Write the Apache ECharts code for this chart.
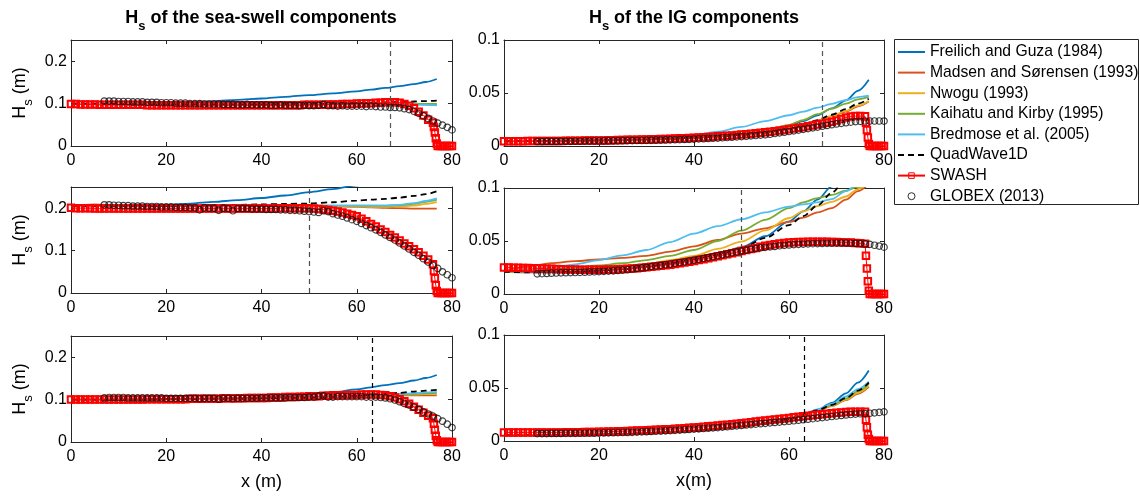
<!DOCTYPE html>
<html>
<head>
<meta charset="utf-8">
<script src="https://cdn.jsdelivr.net/npm/echarts@6/dist/echarts.min.js"></script>
<style>
  html, body { margin: 0; padding: 0; background: #ffffff; }
  #chart { width: 1140px; height: 499px; }
</style>
</head>
<body>
<div id="chart"></div>
<script>
// ---------------------------------------------------------------------------
// Significant wave height along the flume: sea-swell (left) and infragravity
// (right) components for three cases (rows). Five Boussinesq-type models,
// QuadWave1D, SWASH and the GLOBEX (2013) measurements.
// ---------------------------------------------------------------------------

// ---- tick labels / axis values ----
const xTicks = [0, 20, 40, 60, 80];
const ssTicks = [0, 0.1, 0.2];
const igTicks = [0, 0.05, 0.1];
const breakX = [67, 50, 63.3];           // dashed break-point marker per case

// ---- legend / series names ----
const modelNames = ['Freilich and Guza (1984)', 'Madsen and Sørensen (1993)', 'Nwogu (1993)',
                    'Kaihatu and Kirby (1995)', 'Bredmose et al. (2005)'];
const quadName = 'QuadWave1D';
const swashName = 'SWASH';
const globexName = 'GLOBEX (2013)';

// ---- sample positions (m) ----
const modelX = [0, 5, 10, 15, 20, 25, 30, 35, 40, 45, 50, 55, 60, 63, 66, 69, 72, 74.5, 76.8];
const swashX = [0,1,2,3,4,5,6,7,8,9,10,11,12,13,14,15,16,17,18,19,20,21,22,23,24,25,26,27,28,29,
  30,31,32,33,34,35,36,37,38,39,40,41,42,43,44,45,46,47,48,49,50,51,52,53,54,55,56,57,58,59,
  60,61,62,63,64,65,66,67,68,69,70,71,72,73,74,75,76,76.2,76.4,76.6,76.8,77,77.5,78,78.5,79,79.5,80];
const globexX = [7,8,9,10,11,12,13,14,15,16,17,18,19,20,21,22,23,24,25,26,27,28,29,30,31,32,33,34,35,36,
  37,38,39,40,41,42,43,44,45,46,47,48,49,50,51,52,53,54,55,56,57,58,59,60,61,62,63,64,65,66,
  67,68,69,70,71,72,73,74,75,76,77,78,79,80];

// ================= Case 1, sea-swell Hs (m) =================
const ss1Freilich = [.100,.100,.100,.101,.102,.104,.106,.109,.112,.116,.120,.124,.129,.133,.137,.141,.146,.151,.158];
const ss1Madsen   = [.100,.099,.099,.098,.098,.098,.098,.098,.098,.098,.098,.099,.099,.099,.100,.100,.099,.098,.097];
const ss1Nwogu    = [.100,.099,.099,.098,.098,.098,.098,.098,.098,.098,.098,.099,.099,.100,.100,.100,.100,.099,.098];
const ss1Kaihatu  = [.100,.099,.099,.098,.098,.098,.098,.098,.098,.098,.099,.099,.100,.100,.100,.101,.100,.099,.099];
const ss1Bredmose = [.100,.099,.099,.098,.098,.098,.098,.098,.098,.098,.098,.099,.099,.100,.100,.099,.098,.097,.096];
const ss1Quad     = [.100,.099,.099,.098,.098,.098,.098,.098,.098,.099,.099,.100,.101,.102,.103,.104,.105,.106,.107];
const ss1Swash = [
  .099,.099,.098,.098,.098,.098,.097,.097,.097,.097,
  .097,.097,.097,.097,.097,.097,.096,.096,.096,.096,
  .096,.096,.096,.096,.096,.096,.096,.096,.096,.096,
  .096,.096,.096,.096,.096,.096,.096,.096,.096,.096,
  .096,.096,.096,.096,.096,.096,.096,.096,.096,.097,
  .097,.097,.097,.097,.098,.098,.098,.099,.099,.099,
  .100,.100,.101,.101,.102,.102,.103,.103,.103,.102,
  .099,.095,.089,.081,.072,.062,.055,
  .045,.032,.018,.006,
  0,0,0,0,0,0,0];
const ss1Globex = [
  .106,.106,.106,.105,.105,.105,.104,.104,.104,.103,
  .103,.103,.102,.102,.102,.101,.101,.101,.100,.100,
  .100,.099,.099,.099,.099,.098,.098,.098,.097,.097,
  .098,.097,.097,.097,.097,.096,.096,.097,.096,.096,
  .096,.095,.096,.095,.095,.096,.098,.095,.095,.094,
  .095,.094,.094,.094,.094,.093,.094,.093,.092,.092,
  .091,.091,.090,.088,.086,.082,.077,.071,.065,.059,
  .054,.049,.044,.038];

// ================= Case 1, infragravity Hs (m) =================
const ig1Freilich = [.0045,.0046,.0048,.0051,.0054,.0058,.0063,.0070,.0080,.0092,.0108,.0132,.0190,.0235,.0290,.0355,.0430,.0520,.0625];
const ig1Madsen   = [.0045,.0046,.0048,.0051,.0054,.0058,.0063,.0070,.0079,.0090,.0105,.0126,.0160,.0195,.0235,.0280,.0325,.0375,.0420];
const ig1Nwogu    = [.0045,.0046,.0048,.0051,.0054,.0058,.0063,.0070,.0079,.0090,.0105,.0127,.0162,.0198,.0240,.0285,.0332,.0380,.0425];
const ig1Kaihatu  = [.0045,.0046,.0048,.0051,.0054,.0058,.0063,.0070,.0080,.0094,.0112,.0140,.0200,.0245,.0300,.0352,.0400,.0440,.0465];
const ig1Bredmose = [.0045,.0046,.0049,.0053,.0058,.0064,.0072,.0085,.0102,.0135,.0180,.0235,.0290,.0325,.0362,.0398,.0433,.0462,.0475];
const ig1Quad     = [.0045,.0046,.0048,.0051,.0054,.0058,.0063,.0070,.0079,.0090,.0105,.0127,.0163,.0200,.0245,.0295,.0348,.0400,.0445];
const ig1Swash = [
  .0045,.0045,.0045,.0045,.0045,.0046,.0046,.0046,.0047,.0047,
  .0047,.0048,.0048,.0049,.0049,.0050,.0050,.0051,.0051,.0052,
  .0053,.0053,.0054,.0055,.0056,.0057,.0058,.0059,.0060,.0061,
  .0062,.0063,.0064,.0066,.0067,.0069,.0070,.0072,.0074,.0076,
  .0078,.0080,.0083,.0085,.0088,.0091,.0094,.0097,.0100,.0104,
  .0108,.0112,.0116,.0120,.0125,.0130,.0135,.0140,.0146,.0152,
  .0158,.0164,.0171,.0178,.0186,.0194,.0202,.0211,.0220,.0229,
  .0240,.0255,.0268,.0278,.0282,.0282,.0280,
  .022,.015,.008,.002,
  0,0,0,0,0,0,0];
const ig1Globex = [
  .0042,.0042,.0043,.0043,.0043,.0044,.0044,.0044,.0045,.0045,
  .0046,.0046,.0047,.0047,.0048,.0048,.0049,.0049,.0050,.0050,
  .0051,.0052,.0052,.0053,.0054,.0055,.0056,.0057,.0058,.0059,
  .0060,.0062,.0063,.0065,.0067,.0069,.0071,.0073,.0075,.0078,
  .0080,.0083,.0086,.0089,.0092,.0096,.0099,.0103,.0107,.0111,
  .0118,.0124,.0130,.0137,.0143,.0150,.0157,.0164,.0171,.0179,
  .0187,.0194,.0201,.0208,.0214,.0220,.0225,.0230,.0233,.0236,
  .0236,.0236,.0236,.0235];

// ================= Case 2, sea-swell Hs (m) =================
const ss2Freilich = [.205,.205,.206,.207,.208,.211,.215,.219,.224,.230,.238,.245,.254,.259,.265,.271,.278,.284,.290];
const ss2Madsen   = [.205,.209,.206,.205,.205,.205,.205,.205,.205,.205,.205,.204,.203,.202,.201,.200,.199,.199,.199];
const ss2Nwogu    = [.205,.206,.205,.205,.205,.205,.205,.205,.205,.205,.205,.205,.204,.203,.203,.204,.206,.210,.215];
const ss2Kaihatu  = [.205,.206,.205,.205,.205,.205,.205,.205,.205,.205,.206,.206,.206,.206,.206,.207,.210,.215,.220];
const ss2Bredmose = [.205,.206,.205,.205,.205,.205,.205,.205,.205,.206,.206,.206,.206,.206,.206,.208,.212,.217,.223];
const ss2Quad     = [.206,.205,.205,.205,.205,.206,.207,.208,.209,.210,.211,.214,.218,.220,.222,.225,.229,.233,.240];
const ss2Swash = [
  .201,.200,.200,.200,.200,.199,.199,.199,.199,.199,
  .199,.199,.199,.199,.199,.199,.199,.199,.199,.199,
  .199,.199,.199,.199,.199,.199,.199,.199,.199,.199,
  .199,.199,.199,.199,.199,.199,.199,.199,.199,.199,
  .199,.199,.199,.199,.200,.200,.200,.200,.200,.200,
  .200,.199,.198,.197,.196,.194,.192,.190,.187,.184,
  .181,.175,.169,.163,.157,.150,.144,.137,.131,.124,
  .117,.110,.103,.096,.088,.079,.068,
  .052,.035,.018,.005,
  0,0,0,0,0,0,0];
const ss2Globex = [
  .208,.208,.207,.207,.206,.206,.205,.205,.205,.204,
  .204,.204,.203,.203,.203,.202,.202,.202,.201,.201,
  .196,.201,.200,.200,.195,.200,.199,.194,.199,.199,
  .199,.198,.198,.198,.197,.197,.197,.196,.196,.195,
  .195,.194,.193,.192,.191,.190,.194,.192,.187,.184,
  .181,.177,.173,.169,.164,.159,.154,.149,.143,.137,
  .131,.125,.118,.111,.104,.096,.089,.081,.073,.065,
  .058,.050,.043,.036];

// ================= Case 2, infragravity Hs (m) =================
const ig2Freilich = [.021,.0205,.0205,.021,.022,.0235,.026,.029,.033,.038,.044,.0545,.0685,.078,.089,.1015,.114,.127,.140];
const ig2Madsen   = [.021,.026,.029,.031,.0327,.034,.036,.040,.045,.051,.057,.062,.068,.072,.077,.081,.089,.097,.104];
const ig2Nwogu    = [.021,.021,.022,.023,.024,.026,.028,.032,.036,.0425,.0494,.060,.0717,.078,.083,.087,.092,.099,.105];
const ig2Kaihatu  = [.021,.022,.023,.025,.027,.029,.032,.036,.0415,.050,.0597,.070,.081,.0865,.0905,.0935,.0975,.101,.105];
const ig2Bredmose = [.021,.023,.025,.028,.032,.0365,.0415,.049,.057,.064,.0705,.077,.0824,.0845,.0865,.0895,.097,.104,.110];
const ig2Quad     = [.021,.0205,.0205,.021,.022,.0235,.026,.029,.033,.037,.043,.053,.065,.0735,.0835,.0955,.108,.120,.130];
const ig2Swash = [
  .0250,.0249,.0248,.0247,.0246,.0245,.0244,.0242,.0241,.0239,
  .0238,.0236,.0234,.0232,.0231,.0230,.0229,.0228,.0228,.0228,
  .0228,.0229,.0230,.0232,.0234,.0236,.0238,.0241,.0244,.0248,
  .0252,.0256,.0261,.0266,.0271,.0277,.0283,.0290,.0297,.0304,
  .0312,.0320,.0329,.0338,.0347,.0356,.0365,.0375,.0385,.0395,
  .0405,.0415,.0425,.0435,.0445,.0455,.0463,.0470,.0476,.0481,
  .0485,.0488,.0490,.0491,.0492,.0492,.0492,.0492,.0492,.0491,
  .0490,.0489,.0487,.0485,.0482,.0478,.0473,
  .036,.024,.012,.003,
  0,0,0,0,0,0,0];
const ig2Globex = [
  .0190,.0192,.0194,.0196,.0198,.0200,.0201,.0202,.0203,.0204,
  .0206,.0208,.0210,.0212,.0214,.0216,.0219,.0222,.0225,.0229,
  .0236,.0241,.0246,.0252,.0258,.0264,.0270,.0276,.0283,.0290,
  .0297,.0304,.0312,.0320,.0328,.0336,.0344,.0352,.0361,.0370,
  .0379,.0388,.0397,.0406,.0414,.0422,.0429,.0435,.0440,.0445,
  .0449,.0455,.0459,.0463,.0466,.0469,.0471,.0473,.0475,.0476,
  .0477,.0478,.0479,.0480,.0480,.0480,.0479,.0477,.0475,.0472,
  .0469,.0460,.0452,.0442];

// ================= Case 3, sea-swell Hs (m) =================
const ss3Freilich = [.100,.100,.100,.101,.101,.102,.103,.104,.1055,.108,.112,.117,.124,.129,.134,.139,.145,.151,.158];
const ss3Madsen   = [.100,.100,.100,.100,.101,.101,.102,.102,.103,.104,.105,.106,.107,.108,.109,.110,.110,.110,.110];
const ss3Nwogu    = [.100,.100,.100,.100,.101,.101,.102,.102,.103,.104,.105,.106,.107,.108,.110,.111,.112,.113,.114];
const ss3Kaihatu  = [.100,.100,.100,.100,.101,.101,.102,.102,.103,.104,.105,.106,.107,.109,.110,.112,.113,.115,.116];
const ss3Bredmose = [.100,.100,.100,.100,.101,.101,.102,.102,.103,.104,.105,.106,.108,.109,.111,.113,.115,.117,.118];
const ss3Quad     = [.100,.100,.100,.100,.101,.101,.102,.102,.103,.104,.104,.106,.109,.111,.114,.116,.119,.121,.123];
const ss3Swash = [
  .100,.100,.100,.100,.100,.100,.100,.100,.100,.100,
  .100,.100,.100,.100,.100,.100,.101,.101,.101,.101,
  .101,.101,.101,.101,.101,.102,.102,.102,.102,.102,
  .102,.102,.103,.103,.103,.103,.103,.104,.104,.104,
  .104,.104,.105,.105,.105,.106,.106,.106,.107,.107,
  .108,.108,.108,.109,.109,.110,.110,.110,.111,.111,
  .111,.112,.112,.112,.112,.111,.110,.108,.105,.101,
  .096,.090,.083,.076,.069,.062,.056,
  .043,.029,.015,.004,
  0,0,0,0,0,0,0];
const ss3Globex = [
  .104,.105,.105,.105,.105,.104,.104,.104,.104,.104,
  .104,.104,.104,.103,.103,.103,.103,.103,.103,.103,
  .102,.103,.103,.103,.101,.103,.103,.102,.103,.103,
  .103,.103,.103,.104,.104,.104,.104,.104,.104,.105,
  .105,.105,.105,.106,.106,.108,.109,.106,.106,.107,
  .107,.107,.107,.107,.107,.106,.106,.106,.105,.104,
  .102,.099,.095,.091,.087,.082,.077,.071,.066,.061,
  .055,.049,.042,.034];

// ================= Case 3, infragravity Hs (m) =================
const ig3Freilich = [.0055,.0055,.0056,.0058,.0061,.0066,.0073,.0083,.0095,.0112,.0135,.0165,.0210,.0250,.0295,.0360,.0450,.0550,.0665];
const ig3Madsen   = [.0055,.0055,.0056,.0058,.0061,.0066,.0073,.0083,.0095,.0112,.0135,.0165,.0205,.0245,.0285,.0330,.0385,.0445,.0510];
const ig3Nwogu    = [.0055,.0055,.0056,.0058,.0061,.0066,.0073,.0083,.0095,.0112,.0135,.0165,.0205,.0245,.0285,.0332,.0390,.0455,.0520];
const ig3Kaihatu  = [.0055,.0055,.0056,.0058,.0061,.0066,.0073,.0083,.0095,.0112,.0135,.0165,.0206,.0246,.0288,.0336,.0400,.0470,.0540];
const ig3Bredmose = [.0050,.0051,.0053,.0056,.0060,.0066,.0073,.0083,.0095,.0113,.0137,.0168,.0215,.0252,.0297,.0350,.0420,.0490,.0560];
const ig3Quad     = [.0055,.0055,.0056,.0058,.0061,.0066,.0073,.0083,.0095,.0112,.0135,.0165,.0207,.0247,.0290,.0340,.0405,.0475,.0550];
const ig3Swash = [
  .0080,.0080,.0080,.0080,.0080,.0080,.0080,.0080,.0080,.0080,
  .0080,.0081,.0081,.0082,.0082,.0083,.0083,.0084,.0085,.0086,
  .0087,.0088,.0089,.0090,.0091,.0093,.0094,.0096,.0098,.0100,
  .0102,.0104,.0106,.0108,.0110,.0112,.0115,.0118,.0121,.0124,
  .0127,.0130,.0134,.0138,.0142,.0146,.0150,.0154,.0158,.0163,
  .0168,.0173,.0178,.0183,.0188,.0193,.0198,.0203,.0208,.0213,
  .0218,.0223,.0228,.0233,.0238,.0243,.0248,.0253,.0258,.0262,
  .0266,.0270,.0273,.0275,.0276,.0276,.0275,
  .020,.013,.006,.002,
  0,0,0,0,0,0,0];
const ig3Globex = [
  .0070,.0070,.0070,.0071,.0071,.0071,.0072,.0072,.0072,.0073,
  .0073,.0074,.0074,.0075,.0076,.0077,.0078,.0079,.0080,.0081,
  .0082,.0084,.0086,.0088,.0090,.0092,.0094,.0096,.0098,.0100,
  .0103,.0106,.0109,.0112,.0115,.0118,.0121,.0124,.0127,.0131,
  .0135,.0139,.0143,.0147,.0151,.0155,.0159,.0163,.0167,.0171,
  .0175,.0179,.0183,.0187,.0191,.0196,.0201,.0206,.0211,.0216,
  .0221,.0226,.0231,.0236,.0241,.0246,.0250,.0254,.0257,.0259,
  .0262,.0266,.0270,.0275];

// ---------------------------------------------------------------------------
const FONT = '"Liberation Sans", Arial, Helvetica, sans-serif';
const AX = '#262626';
const modelColors = ['#0072BD', '#D95319', '#EDB120', '#77AC30', '#4DBEEE'];
const breakColors = ['#555555', '#4d4d4d', '#000000'];

// panel order: row-major (sea-swell, IG) x (case 1..3)
const panels = [
  { models: [ss1Freilich, ss1Madsen, ss1Nwogu, ss1Kaihatu, ss1Bredmose], quad: ss1Quad, swash: ss1Swash, globex: ss1Globex, max: 0.25, ticks: ssTicks },
  { models: [ig1Freilich, ig1Madsen, ig1Nwogu, ig1Kaihatu, ig1Bredmose], quad: ig1Quad, swash: ig1Swash, globex: ig1Globex, max: 0.1,  ticks: igTicks },
  { models: [ss2Freilich, ss2Madsen, ss2Nwogu, ss2Kaihatu, ss2Bredmose], quad: ss2Quad, swash: ss2Swash, globex: ss2Globex, max: 0.25, ticks: ssTicks },
  { models: [ig2Freilich, ig2Madsen, ig2Nwogu, ig2Kaihatu, ig2Bredmose], quad: ig2Quad, swash: ig2Swash, globex: ig2Globex, max: 0.1,  ticks: igTicks },
  { models: [ss3Freilich, ss3Madsen, ss3Nwogu, ss3Kaihatu, ss3Bredmose], quad: ss3Quad, swash: ss3Swash, globex: ss3Globex, max: 0.25, ticks: ssTicks },
  { models: [ig3Freilich, ig3Madsen, ig3Nwogu, ig3Kaihatu, ig3Bredmose], quad: ig3Quad, swash: ig3Swash, globex: ig3Globex, max: 0.1,  ticks: igTicks }
];

const gridBoxes = [
  { left: 71,  top: 40,  width: 381, height: 106 },
  { left: 504, top: 40,  width: 380, height: 106 },
  { left: 71,  top: 187, width: 381, height: 106 },
  { left: 504, top: 188, width: 380, height: 106 },
  { left: 71,  top: 336, width: 381, height: 106 },
  { left: 504, top: 335, width: 380, height: 106 }
];

function zip(xs, ys) {
  const out = [];
  for (let i = 0; i < xs.length; i++) out.push([xs[i], ys[i]]);
  return out;
}

const grid = [], xAxis = [], yAxis = [], series = [];

panels.forEach((p, i) => {
  const row = Math.floor(i / 2);
  const isIG = i % 2 === 1;
  grid.push(Object.assign({ containLabel: false }, gridBoxes[i]));

  const lineCfg = { show: true, onZero: false, lineStyle: { color: AX, width: 1 } };
  const tickCfg = { show: true, inside: true, length: 4, lineStyle: { color: AX, width: 1 } };

  // bottom x axis with labels
  xAxis.push({
    type: 'value', gridIndex: i, min: 0, max: 80, interval: 20, position: 'bottom',
    axisLine: lineCfg, axisTick: Object.assign({ customValues: xTicks }, tickCfg),
    axisLabel: { customValues: xTicks, color: '#000', fontSize: 16, fontFamily: FONT, margin: 7 },
    splitLine: { show: false },
    name: row === 2 ? (isIG ? 'x(m)' : 'x (m)') : '',
    nameLocation: 'middle', nameGap: 31,
    nameTextStyle: { color: '#000', fontSize: 18, fontFamily: FONT }
  });
  // top x axis (box edge with inward ticks)
  xAxis.push({
    type: 'value', gridIndex: i, min: 0, max: 80, interval: 20, position: 'top',
    axisLine: lineCfg, axisTick: Object.assign({ customValues: xTicks }, tickCfg),
    axisLabel: { show: false }, splitLine: { show: false }
  });
  // left y axis with labels
  yAxis.push({
    type: 'value', gridIndex: i, min: 0, max: p.max, position: 'left',
    axisLine: lineCfg, axisTick: Object.assign({ customValues: p.ticks }, tickCfg),
    axisLabel: { customValues: p.ticks, color: '#000', fontSize: 16, fontFamily: FONT, margin: 4 },
    splitLine: { show: false }
  });
  // right y axis (box edge with inward ticks)
  yAxis.push({
    type: 'value', gridIndex: i, min: 0, max: p.max, position: 'right',
    axisLine: lineCfg, axisTick: Object.assign({ customValues: p.ticks }, tickCfg),
    axisLabel: { show: false }, splitLine: { show: false }
  });

  const xi = 2 * i, yi = 2 * i;

  p.models.forEach((vals, k) => {
    series.push({
      type: 'line', name: modelNames[k], xAxisIndex: xi, yAxisIndex: yi,
      data: zip(modelX, vals), symbol: 'none', showSymbol: false,
      smooth: 0.3, smoothMonotone: 'x', clip: true, silent: true, z: 2,
      lineStyle: { color: modelColors[k], width: 1.8 }, itemStyle: { color: modelColors[k] }
    });
  });

  series.push({
    type: 'line', name: quadName, xAxisIndex: xi, yAxisIndex: yi,
    data: zip(modelX, p.quad), symbol: 'none', showSymbol: false,
    smooth: 0.3, smoothMonotone: 'x', clip: true, silent: true, z: 3,
    lineStyle: { color: '#000', width: 1.8, type: [6, 4] }, itemStyle: { color: '#000' }
  });

  series.push({
    type: 'line', name: swashName, xAxisIndex: xi, yAxisIndex: yi,
    data: zip(swashX, p.swash), symbol: 'rect', symbolSize: 6.5, showSymbol: true, showAllSymbol: true,
    clip: true, silent: true, z: 4,
    lineStyle: { color: '#ff0000', width: 1 },
    itemStyle: { color: 'rgba(255,255,255,0)', borderColor: '#ff0000', borderWidth: 2 }
  });

  series.push({
    type: 'scatter', name: globexName, xAxisIndex: xi, yAxisIndex: yi,
    data: zip(globexX, p.globex), symbol: 'circle', symbolSize: 6.5, silent: true, z: 5,
    itemStyle: { color: 'rgba(255,255,255,0)', borderColor: '#111', borderWidth: 1.2 },
    markLine: {
      silent: true, symbol: ['none', 'none'], label: { show: false },
      lineStyle: { color: breakColors[row], width: 1.2, type: [5, 4] },
      data: [{ xAxis: breakX[row] }]
    }
  });
});

const hideDot = { opacity: 0 };
const legendData = [
  { name: modelNames[0], itemStyle: hideDot },
  { name: modelNames[1], itemStyle: hideDot },
  { name: modelNames[2], itemStyle: hideDot },
  { name: modelNames[3], itemStyle: hideDot },
  { name: modelNames[4], itemStyle: hideDot },
  { name: quadName, itemStyle: hideDot },
  { name: swashName, itemStyle: { color: 'rgba(255,255,255,0)', borderColor: '#ff0000', borderWidth: 1 } },
  { name: globexName, itemStyle: { color: 'rgba(255,255,255,0)', borderColor: '#000', borderWidth: 1 } }
];

const titleRich = {
  n: { fontSize: 18, fontWeight: 'bold', fontFamily: FONT, color: '#000', lineHeight: 30 },
  s: { fontSize: 13, fontWeight: 'bold', fontFamily: FONT, color: '#000', lineHeight: 12, verticalAlign: 'bottom' }
};
const nameRich = {
  n: { fontSize: 18, fontFamily: FONT, color: '#000', lineHeight: 30 },
  s: { fontSize: 13, fontFamily: FONT, color: '#000', lineHeight: 12, verticalAlign: 'bottom' }
};

const graphic = [
  { type: 'text', x: 261, y: 18, silent: true,
    style: { text: '{n|H}{s|s}{n| of the sea-swell components}', rich: titleRich, align: 'center', verticalAlign: 'middle' } },
  { type: 'text', x: 694, y: 18, silent: true,
    style: { text: '{n|H}{s|s}{n| of the IG components}', rich: titleRich, align: 'center', verticalAlign: 'middle' } },
  { type: 'rect', silent: true, shape: { x: 894.5, y: 39.5, width: 244, height: 165 },
    style: { fill: 'none', stroke: AX, lineWidth: 1 } }
];
[93, 240, 389].forEach(cy => {
  graphic.push({
    type: 'text', x: 20, y: cy, rotation: Math.PI / 2, silent: true,
    style: { text: '{n|H}{s|s}{n| (m)}', rich: nameRich, align: 'center', verticalAlign: 'middle' }
  });
});

const chart = echarts.init(document.getElementById('chart'), null, { renderer: 'canvas' });
chart.setOption({
  backgroundColor: '#ffffff',
  animation: false,
  grid, xAxis, yAxis, series, graphic,
  legend: {
    show: true, orient: 'vertical', left: 897, top: 44, padding: 0,
    itemWidth: 27, itemHeight: 7, itemGap: 4.6, selectedMode: false,
    textStyle: { fontSize: 15.7, fontFamily: FONT, color: '#000', lineHeight: 16 },
    data: legendData
  }
});
</script>
</body>
</html>
